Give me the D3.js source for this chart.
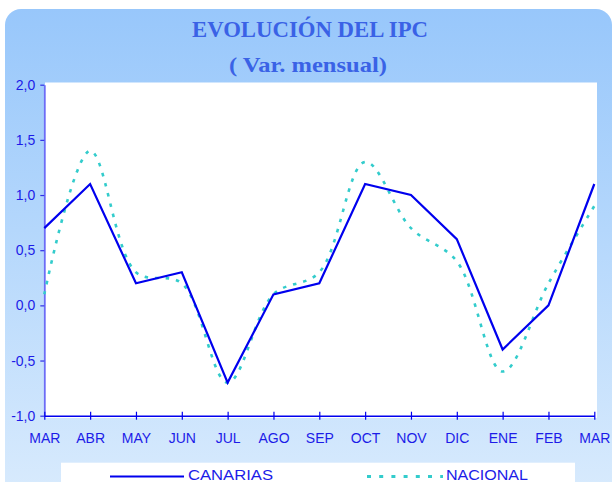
<!DOCTYPE html>
<html>
<head>
<meta charset="utf-8">
<script src="https://cdn.jsdelivr.net/npm/d3@7"></script>
<style>
  html, body { margin: 0; padding: 0; background: #ffffff; }
  svg { display: block; }
</style>
</head>
<body>
<svg id="chart" width="614" height="482"></svg>
<script>
const months = ["MAR","ABR","MAY","JUN","JUL","AGO","SEP","OCT","NOV","DIC","ENE","FEB","MAR"];
const canarias = [0.7, 1.1, 0.2, 0.3, -0.7, 0.1, 0.2, 1.1, 1.0, 0.6, -0.4, 0.0, 1.1];
const nacional = [0.1, 1.4, 0.3, 0.2, -0.7, 0.1, 0.3, 1.3, 0.7, 0.4, -0.6, 0.2, 0.9];
const yTicks = [-1.0, -0.5, 0.0, 0.5, 1.0, 1.5, 2.0];
const title = "EVOLUCIÓN DEL IPC";
const subtitle = "( Var. mensual)";
const seriesNames = ["CANARIAS", "NACIONAL"];

const svg = d3.select("#chart");
const defs = svg.append("defs");
const grad = defs.append("linearGradient").attr("id", "bg").attr("x1", 0).attr("y1", 0).attr("x2", 0).attr("y2", 1);
grad.append("stop").attr("offset", "0%").attr("stop-color", "#98c7fb");
grad.append("stop").attr("offset", "45%").attr("stop-color", "#b4d7fc");
grad.append("stop").attr("offset", "100%").attr("stop-color", "#d9ebfd");

// panel
svg.append("rect").attr("x", 5).attr("y", 9).attr("width", 607).attr("height", 490)
  .attr("rx", 16).attr("fill", "url(#bg)");

const x = d3.scaleLinear().domain([0, months.length - 1]).range([44.3, 594.3]);
const y = d3.scaleLinear().domain([-1, 2]).range([415.7, 84.7]);

// plot area
svg.append("rect").attr("x", 45).attr("y", 82.5).attr("width", 552).attr("height", 335.5).attr("fill", "#ffffff");

// titles
svg.append("text").attr("x", 310).attr("y", 36.5).attr("text-anchor", "middle")
  .attr("font-family", "Liberation Serif, serif").attr("font-weight", "bold").attr("font-size", 22.6)
  .attr("fill", "#3a62e6").attr("textLength", 236).attr("lengthAdjust", "spacingAndGlyphs").text(title);
svg.append("text").attr("x", 308).attr("y", 72).attr("text-anchor", "middle")
  .attr("font-family", "Liberation Serif, serif").attr("font-weight", "bold").attr("font-size", 21)
  .attr("fill", "#3a62e6").attr("textLength", 158).attr("lengthAdjust", "spacingAndGlyphs").text(subtitle);

// axes
const fmt = d => d.toFixed(1).replace(".", ",");
const yAxis = svg.append("g").attr("transform", "translate(44.3,0)")
  .call(d3.axisLeft(y).tickValues(yTicks).tickFormat(fmt).tickSize(4).tickSizeOuter(0).tickPadding(5));
yAxis.select(".domain").attr("stroke", "#6c6cf6").attr("stroke-width", 1.8);
yAxis.selectAll(".tick line").attr("stroke", "#3030e8").attr("stroke-width", 1.2);
yAxis.selectAll(".tick text").attr("fill", "#1c1ce8").attr("font-family", "Liberation Sans, Arial, sans-serif").attr("font-size", 14);

const xAxis = svg.append("g").attr("transform", "translate(0,415.7)")
  .call(d3.axisBottom(x).tickValues(d3.range(months.length)).tickFormat(i => months[i]).tickSize(4).tickSizeOuter(0).tickPadding(13));
xAxis.select(".domain").attr("stroke", "#0000ee").attr("stroke-width", 1.4);
xAxis.selectAll(".tick line").attr("y1", -4).attr("stroke", "#0000ee").attr("stroke-width", 1.2);
xAxis.selectAll(".tick text").attr("fill", "#1c1ce8").attr("font-family", "Liberation Sans, Arial, sans-serif").attr("font-size", 14);

// lines
const lineStraight = d3.line().x((d, i) => x(i)).y(d => y(d));
const lineSmooth = d3.line().x((d, i) => x(i)).y(d => y(d)).curve(d3.curveCatmullRom.alpha(0.5));

svg.append("path").datum(nacional).attr("d", lineSmooth).attr("fill", "none")
  .attr("stroke", "#33cccc").attr("stroke-width", 2.6).attr("stroke-dasharray", "3.5,7");
svg.append("path").datum(canarias).attr("d", lineStraight).attr("fill", "none")
  .attr("stroke", "#0000ee").attr("stroke-width", 2.2).attr("stroke-linejoin", "miter");

// legend
svg.append("rect").attr("x", 61).attr("y", 462.7).attr("width", 514).attr("height", 30).attr("fill", "#ffffff");
svg.append("line").attr("x1", 110).attr("x2", 184).attr("y1", 476.5).attr("y2", 476.5)
  .attr("stroke", "#0000ee").attr("stroke-width", 2.2);
svg.append("text").attr("x", 188).attr("y", 479.5).attr("font-family", "Liberation Sans, Arial, sans-serif")
  .attr("font-size", 14.5).attr("fill", "#1c1ce8").attr("textLength", 85).attr("lengthAdjust", "spacingAndGlyphs").text(seriesNames[0]);
svg.append("line").attr("x1", 367).attr("x2", 443).attr("y1", 476.5).attr("y2", 476.5)
  .attr("stroke", "#33cccc").attr("stroke-width", 3.2).attr("stroke-dasharray", "4,8.2");
svg.append("text").attr("x", 446).attr("y", 479.5).attr("font-family", "Liberation Sans, Arial, sans-serif")
  .attr("font-size", 14.5).attr("fill", "#1c1ce8").attr("textLength", 82).attr("lengthAdjust", "spacingAndGlyphs").text(seriesNames[1]);
</script>
</body>
</html>
